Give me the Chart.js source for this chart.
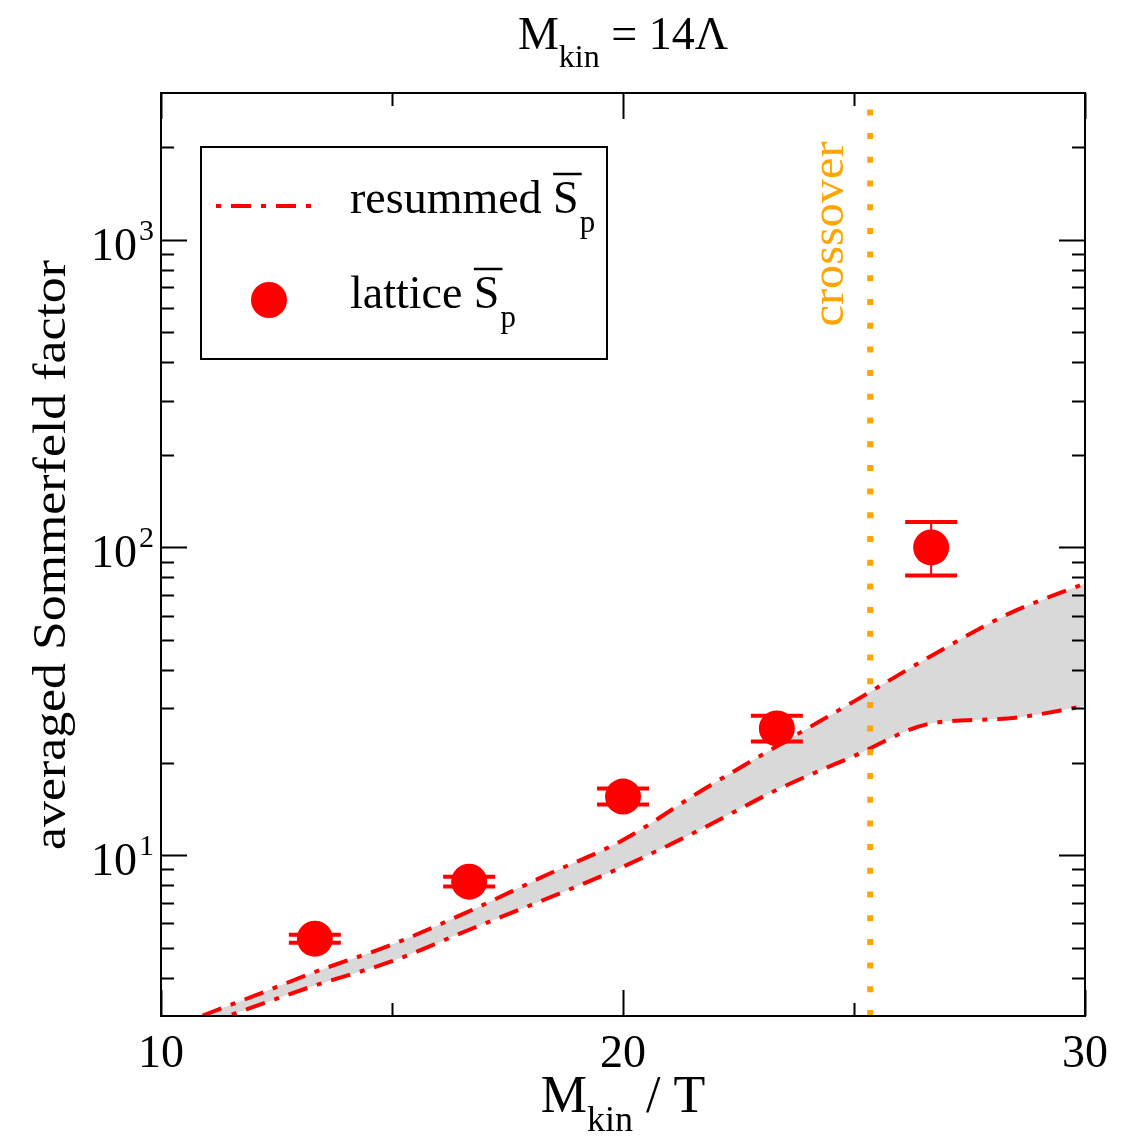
<!DOCTYPE html>
<html lang="en">
<head>
  <meta charset="UTF-8" />
  <title>Averaged Sommerfeld factor</title>
  <script src="https://cdn.jsdelivr.net/npm/chart.js"></script>
  <style>
    body { margin: 0; background: #fff; }
    #wrap { width: 1132px; height: 1136px; }
  </style>
</head>
<body>
  <div id="wrap"><canvas id="chart" width="1132" height="1136"></canvas></div>

  <script>
    // resummed band (upper / lower edge)
    const bandX     = [10, 11, 12, 13.33, 15, 16.67, 18.33, 20, 21.67, 23.33, 25, 26.67, 28.33, 30];
    const bandUpper = [2.65, 3.05, 3.48, 4.17, 5.12, 6.57, 8.6, 11.2, 16.1, 22.6, 31.6, 44.4, 60.7, 76.4];
    const bandLower = [2.52, 2.84, 3.21, 3.77, 4.52, 5.72, 7.2, 9.17, 12.1, 16.3, 21.0, 26.8, 27.8, 30.5];

    // lattice points with error bars
    const latticeX    = [13.33, 16.67, 20, 23.33, 26.67];
    const latticeY    = [5.35, 8.2, 15.5, 25.8, 100];
    const latticeLow  = [5.19, 7.9, 14.6, 23.4, 81];
    const latticeHigh = [5.51, 8.5, 16.45, 28.4, 121];

    const crossoverX = 25.35;

    const xMin = 10, xMax = 30;
    const yMin = 3, yMax = 3000;
    const xTicks = [10, 15, 20, 25, 30];
    const xMajor = [10, 20, 30];
    const yTicks = [3, 4, 5, 6, 7, 8, 9, 10, 20, 30, 40, 50, 60, 70, 80, 90,
                    100, 200, 300, 400, 500, 600, 700, 800, 900, 1000, 2000, 3000];
    const yMajor = [10, 100, 1000];
    const yExponents = ['1', '2', '3'];

    const FONT = '"Liberation Serif", "Times New Roman", serif';
    const RED = '#ff0000';
    const ORANGE = '#ffa500';
    const DASHDOT = [20, 10, 5, 10];

    // draws a run of text pieces (size, vertical shift) starting at x
    function drawPieces(ctx, pieces, x, y) {
      pieces.forEach(p => {
        ctx.font = p.size + 'px ' + FONT;
        ctx.fillText(p.t, x, y + (p.dy || 0));
        x += ctx.measureText(p.t).width;
      });
      return x;
    }
    function piecesWidth(ctx, pieces) {
      let w = 0;
      pieces.forEach(p => { ctx.font = p.size + 'px ' + FONT; w += ctx.measureText(p.t).width; });
      return w;
    }

    const errorBars = {
      id: 'errorBars',
      beforeDatasetDraw(chart, args) {
        if (args.index !== 3) return;
        const ctx = chart.ctx, xs = chart.scales.x, ys = chart.scales.y;
        ctx.save();
        ctx.strokeStyle = RED;
        for (let i = 0; i < latticeX.length; i++) {
          const px = xs.getPixelForValue(latticeX[i]);
          const lo = ys.getPixelForValue(latticeLow[i]);
          const hi = ys.getPixelForValue(latticeHigh[i]);
          ctx.lineWidth = 2;
          ctx.beginPath(); ctx.moveTo(px, lo); ctx.lineTo(px, hi); ctx.stroke();
          ctx.lineWidth = 4;
          ctx.beginPath();
          ctx.moveTo(px - 26, lo); ctx.lineTo(px + 26, lo);
          ctx.moveTo(px - 26, hi); ctx.lineTo(px + 26, hi);
          ctx.stroke();
        }
        ctx.restore();
      }
    };

    const decorations = {
      id: 'decorations',
      afterDraw(chart) {
        const ctx = chart.ctx, a = chart.chartArea;
        const xs = chart.scales.x, ys = chart.scales.y;
        ctx.save();

        // frame and inward ticks on all four sides
        ctx.strokeStyle = '#000';
        ctx.lineWidth = 2;
        ctx.strokeRect(a.left, a.top, a.right - a.left, a.bottom - a.top);
        ctx.beginPath();
        xTicks.forEach(v => {
          const px = Math.round(xs.getPixelForValue(v)) + 0.5;
          const len = xMajor.includes(v) ? 26 : 13;
          ctx.moveTo(px, a.bottom); ctx.lineTo(px, a.bottom - len);
          ctx.moveTo(px, a.top); ctx.lineTo(px, a.top + len);
        });
        yTicks.forEach(v => {
          if (v === yMin || v === yMax) return;
          const py = Math.round(ys.getPixelForValue(v)) + 0.5;
          const len = yMajor.includes(v) ? 26 : 13;
          ctx.moveTo(a.left, py); ctx.lineTo(a.left + len, py);
          ctx.moveTo(a.right, py); ctx.lineTo(a.right - len, py);
        });
        ctx.stroke();

        ctx.fillStyle = '#000';
        ctx.textBaseline = 'alphabetic';
        const cx = (a.left + a.right) / 2;

        // y tick labels 10^n
        yMajor.forEach((v, i) => {
          const py = ys.getPixelForValue(v);
          ctx.textAlign = 'right';
          ctx.font = '46px ' + FONT;
          ctx.fillText('10', 137, py + 20);
          ctx.textAlign = 'left';
          ctx.font = '30px ' + FONT;
          ctx.fillText(yExponents[i], 139, py);
        });
        ctx.textAlign = 'left';

        // top title
        const title = [{ t: 'M', size: 46 }, { t: 'kin', size: 32, dy: 18 }, { t: ' = 14\u039B', size: 46 }];
        drawPieces(ctx, title, cx - piecesWidth(ctx, title) / 2, 49);

        // x axis title
        const xt = [{ t: 'M', size: 52 }, { t: 'kin', size: 36, dy: 19 }, { t: ' / T', size: 52 }];
        drawPieces(ctx, xt, cx - piecesWidth(ctx, xt) / 2, 1112);

        // y axis title (rotated)
        ctx.save();
        ctx.translate(65, 555);
        ctx.rotate(-Math.PI / 2);
        ctx.font = '46px ' + FONT;
        const yt = 'averaged Sommerfeld factor';
        ctx.scale(590 / ctx.measureText(yt).width, 1);
        ctx.textAlign = 'center';
        ctx.fillText(yt, 0, 0);
        ctx.restore();

        // crossover label
        ctx.save();
        ctx.translate(843, 234);
        ctx.rotate(-Math.PI / 2);
        ctx.font = '46px ' + FONT;
        ctx.fillStyle = ORANGE;
        ctx.scale(185 / ctx.measureText('crossover').width, 1);
        ctx.textAlign = 'center';
        ctx.fillText('crossover', 0, 0);
        ctx.restore();

        // legend box
        ctx.lineWidth = 2;
        ctx.strokeStyle = '#000';
        ctx.strokeRect(201, 147, 406, 212);

        ctx.strokeStyle = RED;
        ctx.lineWidth = 4;
        ctx.setLineDash([5, 10, 20, 10]);
        ctx.beginPath(); ctx.moveTo(216, 206); ctx.lineTo(318, 206); ctx.stroke();
        ctx.setLineDash([]);

        ctx.fillStyle = RED;
        ctx.beginPath(); ctx.arc(269, 300, 18, 0, Math.PI * 2); ctx.fill();

        ctx.fillStyle = '#000';
        ctx.strokeStyle = '#000';
        ctx.lineWidth = 2.5;
        function sbar(label, y) {
          ctx.font = '46px ' + FONT;
          let x = 350;
          ctx.fillText(label, x, y);
          x += ctx.measureText(label).width;
          const sw = ctx.measureText('S').width;
          ctx.fillText('S', x, y);
          ctx.beginPath(); ctx.moveTo(x, y - 39); ctx.lineTo(x + sw + 3, y - 39); ctx.stroke();
          ctx.font = '31px ' + FONT;
          ctx.fillText('p', x + sw + 1, y + 19);
        }
        sbar('resummed ', 213);
        sbar('lattice ', 308);

        ctx.restore();
      }
    };

    const pts = (xsArr, ysArr) => xsArr.map((x, i) => ({ x, y: ysArr[i] }));

    new Chart(document.getElementById('chart'), {
      type: 'scatter',
      data: {
        datasets: [
          {
            data: pts(bandX, bandLower), showLine: true, pointRadius: 0,
            borderColor: RED, borderWidth: 4, borderDash: DASHDOT, borderCapStyle: 'butt',
            cubicInterpolationMode: 'monotone', fill: false, order: 3
          },
          {
            data: pts(bandX, bandUpper), showLine: true, pointRadius: 0,
            borderColor: RED, borderWidth: 4, borderDash: DASHDOT, borderCapStyle: 'butt',
            cubicInterpolationMode: 'monotone', fill: '-1', backgroundColor: '#d9d9d9', order: 2
          },
          {
            data: [{ x: crossoverX, y: yMin }, { x: crossoverX, y: yMax }], showLine: true, pointRadius: 0,
            borderColor: ORANGE, borderWidth: 6, borderDash: [6, 17.7], borderCapStyle: 'butt',
            fill: false, order: 1
          },
          {
            data: pts(latticeX, latticeY), showLine: false,
            pointRadius: 18, pointBackgroundColor: RED, pointBorderWidth: 0, order: 0
          }
        ]
      },
      options: {
        responsive: false,
        animation: false,
        events: [],
        layout: { padding: { top: 93, right: 47, left: 0, bottom: 0 } },
        plugins: {
          legend: { display: false },
          title: { display: false },
          tooltip: { enabled: false },
          filler: { drawTime: 'beforeDatasetsDraw' }
        },
        scales: {
          x: {
            type: 'linear', min: xMin, max: xMax,
            afterBuildTicks: s => { s.ticks = xTicks.map(v => ({ value: v })); },
            afterFit: s => { s.height = 120; },
            grid: { display: false }, border: { display: false },
            ticks: {
              autoSkip: false, maxRotation: 0, padding: 3, color: '#000',
              font: { family: FONT, size: 46 },
              callback: v => (xMajor.includes(v) ? String(v) : '')
            }
          },
          y: {
            type: 'logarithmic', min: yMin, max: yMax,
            afterBuildTicks: s => { s.ticks = yTicks.map(v => ({ value: v })); },
            afterFit: s => { s.width = 161; },
            grid: { display: false }, border: { display: false },
            ticks: { display: false }
          }
        }
      },
      plugins: [errorBars, decorations]
    });
  </script>
</body>
</html>
